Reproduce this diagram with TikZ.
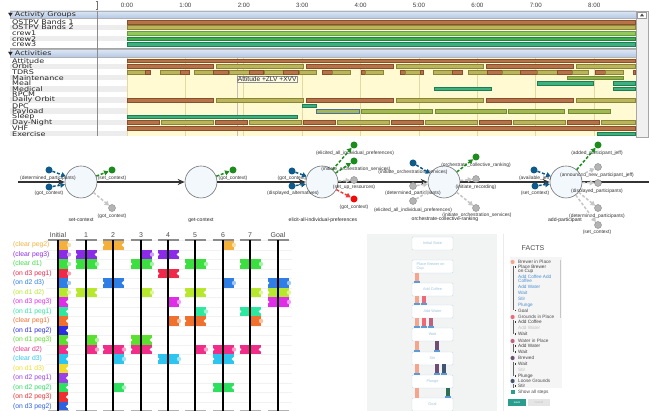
\documentclass[tikz,border=0pt]{standalone}
\usepackage{fontspec}
\setmainfont{Liberation Sans}
\newfontfamily\tlfam[FakeStretch=1.25]{DejaVu Sans}
\usetikzlibrary{arrows.meta}
% timeline colours
\definecolor{brn}{HTML}{B5734A}\definecolor{brnd}{HTML}{8A4E2C}
\definecolor{olv}{HTML}{BAB55C}\definecolor{olvd}{HTML}{8C8634}
\definecolor{tea}{HTML}{3DB07F}\definecolor{tead}{HTML}{1E7D55}
\definecolor{lgr}{HTML}{92C85C}\definecolor{lgrd}{HTML}{6A9E3A}
\definecolor{grn}{HTML}{3CAE4C}\definecolor{grnd}{HTML}{25823A}
\definecolor{pay}{HTML}{A3B855}\definecolor{payd}{HTML}{728A30}
\definecolor{mnt}{HTML}{8FB24E}\definecolor{selb}{HTML}{4C6E9E}
\definecolor{yel}{HTML}{FFFAD2}\definecolor{grd}{HTML}{E3D9A2}
\definecolor{hdrA}{HTML}{DDE7F5}\definecolor{hdrB}{HTML}{B3C6E3}
\definecolor{strp}{HTML}{EDEDED}
% flow colours
\definecolor{pB}{HTML}{0E5A8A}\definecolor{pG}{HTML}{1C8C1C}
\definecolor{pGr}{HTML}{B4B4B4}\definecolor{pGrD}{HTML}{8A8A8A}
\definecolor{pRd}{HTML}{F00A0A}\definecolor{aGr}{HTML}{C6C6C6}
\definecolor{aRd}{HTML}{F03A3A}\definecolor{cfill}{HTML}{F3F8FD}
% puzzle colours
\definecolor{c0}{HTML}{F4B03A}\definecolor{c1}{HTML}{8B2BE8}
\definecolor{c2}{HTML}{3BE040}\definecolor{c3}{HTML}{F0284A}
\definecolor{c4}{HTML}{2E7EE6}\definecolor{c5}{HTML}{B8E82E}
\definecolor{c6}{HTML}{E02EE8}\definecolor{c7}{HTML}{2EE8A0}
\definecolor{c8}{HTML}{F0702E}\definecolor{c9}{HTML}{2E2EE0}
\definecolor{c10}{HTML}{5AE02E}\definecolor{c11}{HTML}{F02E8A}
\definecolor{c12}{HTML}{2EC4F0}\definecolor{c13}{HTML}{F0DC2E}
\definecolor{c14}{HTML}{9C40E8}\definecolor{c15}{HTML}{2EE060}
\definecolor{c16}{HTML}{F03030}\definecolor{c17}{HTML}{2E60E0}
% app colours
\definecolor{pgry}{HTML}{F2F3F3}\definecolor{crdB}{HTML}{C5DCEE}
\definecolor{crdT}{HTML}{9CC3E0}\definecolor{bSal}{HTML}{F4A58C}
\definecolor{bRed}{HTML}{EC6A78}\definecolor{bMau}{HTML}{C06080}
\definecolor{bPur}{HTML}{6E4E72}\definecolor{bNav}{HTML}{3E5470}
\definecolor{bGrn}{HTML}{2E6E52}\definecolor{bBase}{HTML}{5E9BD6}
\definecolor{fBlu}{HTML}{4A90D0}\definecolor{tealb}{HTML}{2A9D8F}
% fonts
\newcommand\tlfont{\tlfam\fontsize{6.4}{6.4}\selectfont}
\newcommand\hrfont{\fontsize{6.2}{6.2}\selectfont}
\newcommand\flowfont{\fontsize{4.9}{4.9}\selectfont}
\newcommand\cxfont{\fontsize{5.1}{5.1}\selectfont}
\newcommand\pzfont{\fontsize{6.8}{6.8}\selectfont}
\newcommand\pzhfont{\fontsize{7}{7}\selectfont}
\newcommand\cardfont{\fontsize{3.8}{4.2}\selectfont}
\newcommand\factfont{\fontsize{4.7}{4.7}\selectfont}
\newcommand\facthfont{\fontsize{7}{7}\selectfont}
\newcommand\tipfont{\fontsize{6.6}{6.6}\selectfont}
% helpers
\newcommand\abar[4]{\path[#4] (#1,{59+5.6*#3}) rectangle (#2,{62.6+5.6*#3});}
\newcommand\pzR[3]{%
  \fill[#3] (#1,{240.3+9.5*#2}) rectangle ++(10.5,9.4);
  \fill[#3!45!white] ({#1+11},{245+9.5*#2}) circle (2.2);}
\newcommand\pzB[3]{%
  \fill[#3] ({#1-10.5},{240.3+9.5*#2}) rectangle ++(21,9.4);
  \fill[white] ({#1-10.5},{245+9.5*#2}) circle (1.8);
  \fill[white] ({#1+10.5},{245+9.5*#2}) circle (1.8);}
\newcommand\pzK[3]{%
  \fill[#3] ({#1-10.5},{240.3+9.5*#2}) rectangle ++(21,9.4);
  \fill[white] ({#1-10.5},{245+9.5*#2}) circle (1.8);
  \fill[#3!45!white] ({#1+11},{245+9.5*#2}) circle (2.2);}
\tikzset{
  sB/.style={fill=brn, draw=brnd, line width=0.35pt},
  sO/.style={fill=olv, draw=olvd, line width=0.35pt},
  sT/.style={fill=tea, draw=tead, line width=0.35pt},
  sP/.style={fill=pay, draw=payd, line width=0.35pt},
  sM/.style={fill=mnt, draw=payd, line width=0.35pt},
  sLG/.style={fill=lgr, draw=lgrd, line width=0.35pt},
  sG/.style={fill=grn, draw=grnd, line width=0.35pt},
  tll/.style={font=\tlfont, anchor=west, inner sep=0, text=black!85},
  hrl/.style={font=\hrfont, inner sep=0, text=black!75},
  bigc/.style={circle, draw=black!55, fill=cfill, minimum size=32pt, inner sep=0, line width=0.6pt},
  dotp/.style={circle, minimum size=7pt, inner sep=0},
  dB/.style={dotp, fill=pB},
  dG/.style={dotp, fill=pG},
  dY/.style={dotp, fill=pGr, draw=pGrD, line width=0.4pt},
  dR/.style={dotp, fill=pRd},
  arw/.style={line width=1.5pt, dash pattern=on 3pt off 1.8pt, -{Triangle[length=4.5pt,width=5pt]}},
  arB/.style={arw, pB}, arG/.style={arw, pG}, arY/.style={arw, aGr}, arR/.style={arw, aRd},
  mainln/.style={line width=1.4pt, black!80, -{Stealth[length=7pt,width=6pt]}},
  lbl/.style={font=\flowfont, text=black!80, inner sep=0},
  cxl/.style={font=\cxfont, text=black!85, inner sep=0},
  pzl/.style={font=\pzfont, anchor=west, inner sep=0},
  pzh/.style={font=\pzhfont, inner sep=0, text=black!70},
  card/.style={rectangle, draw=crdB, fill=white, rounded corners=1pt, minimum width=41pt, minimum height=13pt, font=\cardfont, text=crdT, inner sep=0},
  fct/.style={font=\factfont, anchor=west, inner sep=0, text=black!70},
}
\begin{document}
\begin{tikzpicture}[x=1pt,y=-1pt]
\useasboundingbox (0,0) rectangle (649,411);
\fill[white] (0,0) rectangle (649,411);
%================ TIMELINE =================
\foreach \h [count=\k from 0] in {0:00,1:00,2:00,3:00,4:00,5:00,6:00,7:00,8:00}
  \node[hrl] (hr\k) at ({127+58.4*\k},5) {\h};
\draw[black!55, line width=0.6pt] (95.5,1.5) -- (97,1.5) -- (97,9.5) -- (95.5,9.5);
% group section
\shade[top color=hdrA, bottom color=hdrB] (10,11) rectangle (636,18.5);
\draw[black!30, line width=0.3pt] (10,11) rectangle (636,18.5);
\node[tll] (hg) at (8,14.9) {\fontsize{5}{5}\selectfont▼\ \tlfont Activity Groups};
\foreach \i in {1,3} \fill[strp] (10,{19+5.6*\i}) rectangle (636,{24.6+5.6*\i});
\foreach \t/\s [count=\i from 0] in {OSTPV Bands 1/sB,OSTPV Bands 2/sO,crew1/sLG,crew2/sG,crew3/sT}{
  \node[tll] (gl\i) at (12,{21.9+5.6*\i}) {\t};
  \path[\s] (127,{20+5.6*\i}) rectangle (635,{23.8+5.6*\i});
}
\draw[black!35, line width=0.6pt] (10,48.2) -- (636,48.2);
% activities section
\shade[top color=hdrA, bottom color=hdrB] (10,49.5) rectangle (636,57.5);
\draw[black!30, line width=0.3pt] (10,49.5) rectangle (636,57.5);
\node[tll] (ha) at (8,53.6) {\fontsize{5}{5}\selectfont▼\ \tlfont Activities};
\foreach \i in {1,3,5,7,9,11,13} \fill[strp] (10,{58+5.6*\i}) rectangle (127,{63.6+5.6*\i});
\fill[yel] (127,58) rectangle (636,136.4);
\foreach \k in {0,...,8} \draw[grd, line width=0.7pt] ({127+58.4*\k},58) -- ({127+58.4*\k},136.4);
\draw[black!25, line width=0.6pt] (237.5,58) -- (237.5,136.4);
\foreach \t [count=\i from 0] in {Attitude,Orbit,TDRS,Maintenance,Meal,Medical,RPCM,Daily Orbit,DPC,Payload,Sleep,Day-Night,VHF,Exercise}
  \node[tll] (al\i) at (12,{60.9+5.6*\i}) {\t};
\draw[black!45, line width=0.5pt] (97,11) -- (97,136.4);
% activity bars
\abar{127}{635}{0}{sB}
\foreach \a/\b/\s in {127/213/sB,216/303/sO,306/393/sB,396/483/sO,486/573/sB,576/635/sO}
  {\abar{\a}{\b}{1}{\s}\abar{\a}{\b}{7}{\s}}
\foreach \a/\b/\s in {127/145/sO,145/150/sB,160/180/sO,180/189/sB,194/213/sO,213/228/sB,229/249/sO,249/263/sB,264/283/sO,283/298/sB,299/316/sO,322/332/sB,332/350/sO,361/365/sB,365/383/sO,400/405/sB,405/420/sO,420/423/sB,433/452/sO,452/462/sB,468/487/sO,487/502/sB,502/520/sO,520/537/sB,537/557/sO,557/572/sB,572/588/sO,595/605/sB,605/623/sO,633/635/sB}
  {\abar{\a}{\b}{2}{\s}}
\abar{567}{623}{3}{sM}
\abar{537}{593}{4}{sT}\abar{613}{635}{4}{sT}
\abar{434}{491}{5}{sT}\abar{613}{635}{5}{sT}
\abar{302}{316}{8}{sT}
\path[fill=pay, draw=selb, line width=0.6pt] (316,{59+5.6*9}) rectangle (359,{62.6+5.6*9});
\foreach \a/\b in {361/432,435/506,508/564,568/610} {\abar{\a}{\b}{9}{sP}}
\abar{127}{297}{10}{sT}
\foreach \a/\b/\s in {127/159/sB,161/213/sO,215/247/sB,249/301/sO,303/335/sB,337/389/sO,391/423/sB,425/477/sO,479/511/sB,513/565/sO,567/599/sB,601/635/sO}
  {\abar{\a}{\b}{11}{\s}}
\abar{127}{635}{12}{sB}
\abar{597}{635}{13}{sT}
% tooltip
\node[draw=black!45, fill=yel!50!white, inner sep=0.7pt, anchor=west, font=\tipfont, text=black!85] (tip) at (237,79) {Attitude +ZLV +XVV};
% scrollbar
\fill[black!6] (636,11) rectangle (648,137);
\draw[black!35, line width=0.4pt] (636,11) rectangle (648,137);
\draw[black!40, fill=white, line width=0.3pt] (637.5,11.8) rectangle (646.5,18);
\fill[black!70] (640,16.3) -- (644,16.3) -- (642,13.5) -- cycle;
%================ FLOW =================
\node[bigc] (c1) at (81,182) {};
\node[bigc] (c2) at (201,182) {};
\node[bigc] (c3) at (322,182) {};
\node[bigc] (c4) at (444,182) {};
\node[bigc] (c5) at (566,182) {};
\coordinate (s0) at (18,182);
\coordinate (s6) at (649,182);
\draw[mainln] (s0) -- (c1);
\draw[mainln] (c1) -- (c2);
\draw[mainln] (c2) -- (c3);
\draw[mainln] (c3) -- (c4);
\draw[mainln] (c4) -- (c5);
\draw[line width=1.4pt, black!80] (c5) -- (s6);
% labels
\node[cxl] (n1) at (81,220) {set-context};
\node[cxl] (n2) at (201,220) {get-context};
\node[cxl] (n3) at (323,220) {elicit-all-individual-preferences};
\node[cxl] (n4) at (445,219.5) {orchestrate-collective-ranking};
\node[cxl] (n5) at (565,220) {add-participant};
\node[lbl] (la1) at (48,178) {(determined\_participants)};
\node[lbl] (la2) at (49,193) {(got\_context)};
\node[lbl] (la3) at (112,178) {(set\_context)};
\node[lbl] (la4) at (112,216) {(got\_context)};
\node[lbl] (lb1) at (233,178) {(got\_context)};
\node[lbl] (ld1) at (292,178) {(got\_context)};
\node[lbl] (ld2) at (293,193) {(displayed\_alternatives)};
\node[lbl] (ld3) at (355,153) {(elicited\_all\_individual\_preferences)};
\node[lbl] (ld4) at (356,169) {(initiate\_orchestration\_services)};
\node[lbl] (ld5) at (354,187) {(set\_up\_resources)};
\node[lbl] (ld6) at (354,207) {(got\_context)};
\node[lbl] (le1) at (413,172) {(initiate\_orchestration\_services)};
\node[lbl] (le2) at (413,193) {(determined\_participants)};
\node[lbl] (le3) at (413,210) {(elicited\_all\_individual\_preferences)};
\node[lbl] (le4) at (476,165) {(orchestrate\_collective\_ranking)};
\node[lbl] (le5) at (476,187) {(initiate\_recording)};
\node[lbl] (le6) at (477,215.5) {(initiate\_orchestration\_services)};
\node[lbl] (lf1) at (535,178) {(available\_jeff)};
\node[lbl] (lf2) at (535,193) {(set\_context)};
\node[lbl] (lf3) at (597,153) {(added\_participant\_jeff)};
\node[lbl] (lf4) at (597,175) {(announced\_new\_participant\_jeff)};
\node[lbl] (lf5) at (597,191) {(displayed\_participants)};
\node[lbl] (lf6) at (597,216) {(determined\_participants)};
\node[lbl] (lf7) at (597,232) {(set\_context)};
% pins
\node[dB] (a1) at (49,170) {};
\node[dB] (a2) at (49,187) {};
\node[dG] (a3) at (112,170) {};
\node[dY] (a4) at (112,208) {};
\node[dG] (b1) at (233,170) {};
\node[dB] (d1) at (292,171) {};
\node[dB] (d2) at (292,186) {};
\node[dG] (d3) at (354,145) {};
\node[dG] (d4) at (354,161) {};
\node[dY] (d5) at (354,180) {};
\node[dR] (d6) at (354,199) {};
\node[dB] (e1) at (413,163) {};
\node[dY] (e2) at (413,186) {};
\node[dY] (e3) at (413,201) {};
\node[dG] (e4) at (476,157) {};
\node[dY] (e5) at (476,179) {};
\node[dY] (e6) at (476,208) {};
\node[dB] (f1) at (534,170) {};
\node[dB] (f2) at (535,186) {};
\node[dG] (f3) at (598,145) {};
\node[dY] (f4) at (598,167) {};
\node[dY] (f5) at (598,183) {};
\node[dY] (f6) at (598,208) {};
\node[dY] (f7) at (598,225) {};
% arrows
\draw[arB] (a1) -- (c1); \draw[arB] (a2) -- (c1);
\draw[arG] (c1) -- (a3); \draw[arY] (c1) -- (a4);
\draw[arG] (c2) -- (b1);
\draw[arB] (d1) -- (c3); \draw[arB] (d2) -- (c3);
\draw[arG] (c3) -- (d3); \draw[arG] (c3) -- (d4);
\draw[arY] (c3) -- (d5); \draw[arR] (c3) -- (d6);
\draw[arB] (e1) -- (c4); \draw[arY] (e2) -- (c4); \draw[arY] (e3) -- (c4);
\draw[arG] (c4) -- (e4); \draw[arY] (c4) -- (e5); \draw[arY] (c4) -- (e6);
\draw[arB] (f1) -- (c5); \draw[arB] (f2) -- (c5);
\draw[arG] (c5) -- (f3); \draw[arY] (c5) -- (f4); \draw[arY] (c5) -- (f5);
\draw[arY] (c5) -- (f6); \draw[arY] (c5) -- (f7);
%================ PUZZLE CHART =================
\foreach \r in {0,...,18} \draw[black!5, line width=0.4pt] (46,{240.25+9.5*\r}) -- (292,{240.25+9.5*\r});
\foreach \t [count=\i from 0] in {{(clear peg2)},{(clear peg3)},{(clear d1)},{(on d3 peg1)},{(on d2 d3)},{(on d1 d2)},{(on d3 peg3)},{(on d1 peg1)},{(clear peg1)},{(on d1 peg2)},{(on d1 peg3)},{(clear d2)},{(clear d3)},{(on d1 d3)},{(on d2 peg1)},{(on d2 peg2)},{(on d2 peg3)},{(on d3 peg2)}}{
  \node[pzl, text=c\i] (rl\i) at (13,{245+9.5*\i}) {\t};
  \fill[c\i] (58.8,{240.3+9.5*\i}) rectangle (68,{249.7+9.5*\i});
}
\foreach \i in {0,...,5} \fill[c\i!45!white] (69,{245+9.5*\i}) circle (2.2);
\foreach \i in {6,...,17} \fill[white] (67.6,{245+9.5*\i}) circle (1.8);
% column 1
\pzB{86}{1}{c1}\pzK{86}{2}{c2}\pzB{86}{5}{c5}\pzR{86}{10}{c10}\pzR{86}{11}{c11}
% column 2
\pzB{113}{0}{c0}\pzB{113}{4}{c4}\pzK{113}{11}{c11}\pzR{113}{12}{c12}\pzR{113}{15}{c15}
% column 3
\pzR{141}{1}{c1}\pzK{141}{2}{c2}\pzR{141}{5}{c5}\pzB{141}{10}{c10}\pzB{141}{11}{c11}
% column 4
\pzB{168}{1}{c1}\pzB{168}{3}{c3}\pzR{168}{6}{c6}\pzR{168}{8}{c8}\pzK{168}{12}{c12}
% column 5
\pzK{195}{2}{c2}\pzB{195}{5}{c5}\pzR{195}{7}{c7}\pzB{195}{8}{c8}\pzR{195}{11}{c11}
% column 6
\pzR{223}{0}{c0}\pzR{223}{4}{c4}\pzK{223}{11}{c11}\pzB{223}{12}{c12}\pzB{223}{15}{c15}
% column 7
\pzK{250}{2}{c2}\pzR{250}{5}{c5}\pzB{250}{7}{c7}\pzR{250}{8}{c8}\pzB{250}{11}{c11}
% goal
\pzK{278}{4}{c4}\pzK{278}{5}{c5}\pzK{278}{6}{c6}
\foreach \x/\t [count=\i] in {58/Initial,86/1,113/2,141/3,168/4,195/5,223/6,250/7,278/Goal}{
  \node[pzh] (ph\i) at (\x,235.5) {\t};
  \draw[black!45, line width=1.4pt] ({\x-10.5},240) -- ({\x+10.5},240);
  \draw[black!30, line width=1.4pt] ({\x-10.5},410.3) -- ({\x+10.5},410.3);
  \draw[black, line width=1.7pt] (\x,240) -- (\x,411);
}
%================ APP SCREENSHOT =================
\fill[pgry] (367,234) rectangle (497,411);
\foreach \y/\t [count=\i] in {237/Initial State,260/{},283/Add Coffee,305/Add Water,328/Wait,352/Stir,375/Plunge,398/Goal}
  \node[card] (cd\i) at (432.5,{\y+6.5}) {\t};
\node[font=\cardfont, text=crdT, align=left, inner sep=0, anchor=north west] (cdt) at (416.5,262.5) {Place Brewer on\\Cup};
\foreach \x/\c/\ya/\yb in {417/bSal/273/283,
  417/bSal/296/305,424/bRed/296/305,
  417/bSal/318/328,424/bRed/318/328,431/bMau/318/328,
  417/bSal/341/352,437/bPur/341/352,
  417/bSal/364/375,437/bPur/364/375,444/bNav/364/375,
  448/bGrn/388/398}{
  \fill[\c] ({\x-2},\ya) rectangle ({\x+2},\yb);
  \fill[bBase] ({\x-2.6},{\yb-1.8}) rectangle ({\x+2.6},\yb);
}
\fill[bSal] (415,388) rectangle (419,398);
\draw[black!8, line width=0.6pt] (503,234) -- (503,411);
% facts panel
\node[font=\facthfont, text=black!70, inner sep=0] (fh) at (533,248) {FACTS};
\fill[black!4] (510,257) rectangle (562,388);
\fill[black!22] (559.6,260) rectangle (561,318);
\begin{scope}
\clip (510,257) rectangle (562,388);
\foreach \ya/\yb in {266/310.5,320/334,344/352,362/376,384/392}{
  \draw[black!60, line width=0.35pt] (513.6,\ya) -- (513.6,\yb);
}
\foreach \yy in {267,310.5,322,334,346,352,364,376,386}
  \fill[black!80] (514.6,{\yy-0.9}) rectangle (516.4,{\yy+0.9});
\foreach \y/\c [count=\i] in {262/bSal,317/bRed,341/bMau,358/bPur,381/bNav}
  \fill[\c] (512.6,\y) circle (2.1);
\foreach \y/\t/\c [count=\i] in {262/Brewer in Place/black!70,267/Place Brewer/black!75,271/on Cup/black!75,
  277/Add Coffee Add/fBlu,281/Coffee/fBlu,287/Add Water/fBlu,293/Wait/fBlu,299/Stir/fBlu,305/Plunge/fBlu,
  310.5/Goal/black!75,317/Grounds in Place/black!70,322/Add Coffee/black!75,328/Add Water/black!25,
  334/Wait/black!75,341/Water in Place/black!70,346/Add Water/black!75,352/Wait/black!75,
  358/Brewed/black!70,364/Wait/black!75,370/Stir/black!25,376/Plunge/black!75,381/Loose Grounds/black!70,386/Stir/black!75}
  \node[fct, text=\c] (ft\i) at (518,\y) {\t};
\end{scope}
\fill[tealb] (510.6,389.8) rectangle (514.6,393.8);
\node[fct] (fs) at (518,392) {Show all steps};
\fill[tealb] (508,399) rectangle (526,406.5);
\node[font=\fontsize{3}{3}\selectfont, text=white, inner sep=0] (bs) at (517,402.75) {save};
\fill[black!10] (528,399) rectangle (550,406.5);
\node[font=\fontsize{3}{3}\selectfont, text=black!25, inner sep=0] (bc) at (539,402.75) {cancel};
\end{tikzpicture}
\end{document}
